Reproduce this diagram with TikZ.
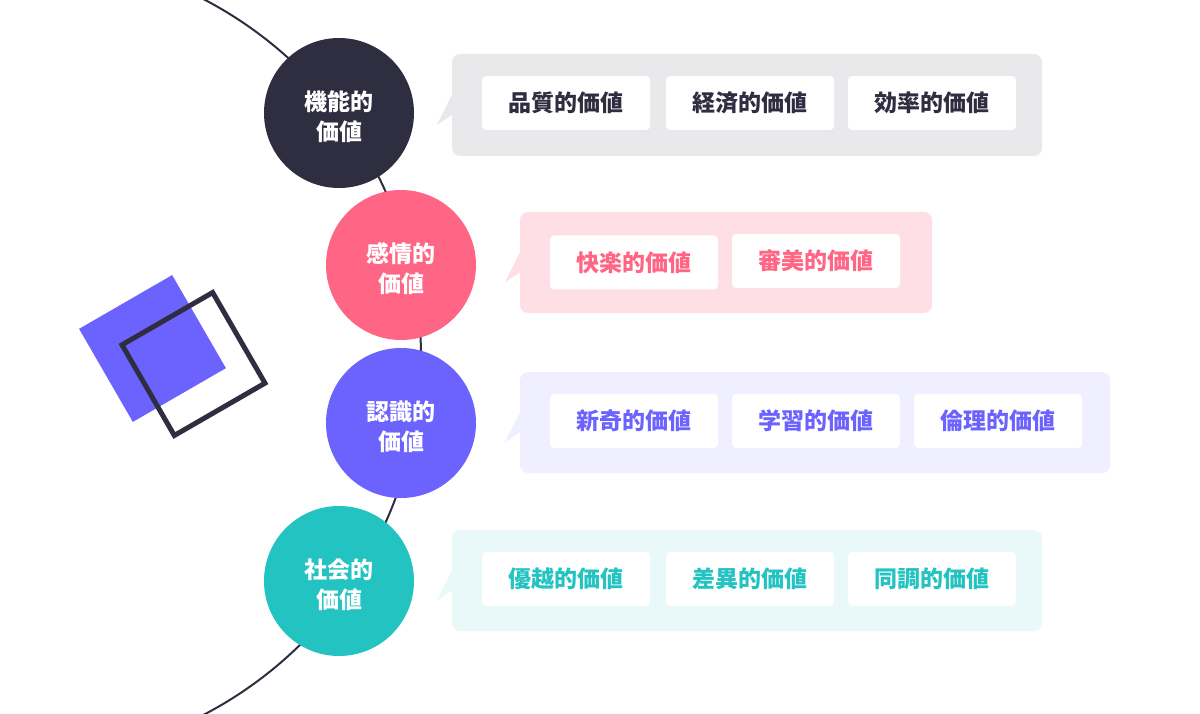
\documentclass[tikz,border=0pt]{standalone}
\usepackage{fontspec}
\newfontfamily\jp{Noto Sans CJK JP}
\definecolor{ink}{HTML}{2F2E41}
\definecolor{rose}{HTML}{FF6584}
\definecolor{violet}{HTML}{6C63FF}
\definecolor{teal}{HTML}{22C3C1}
\definecolor{greypanel}{HTML}{E9E9EC}
\definecolor{rosepanel}{HTML}{FFDFE6}
\definecolor{violetpanel}{HTML}{F0EFFF}
\definecolor{tealpanel}{HTML}{E9F9F9}
\tikzset{
  value/.style={circle, minimum size=150pt, inner sep=0pt, text=white, align=center,
    font=\jp\bfseries\fontsize{23}{30}\selectfont},
  label text/.style={yshift=-4pt, text=white, align=center,
    font=\jp\bfseries\fontsize{23}{30}\selectfont},
  panel/.style={rounded corners=8pt, minimum height=102pt, inner sep=0pt},
  chip/.style={fill=white, rounded corners=4pt, minimum width=168pt, minimum height=54pt,
    inner sep=0pt, font=\jp\bfseries\fontsize{23}{26}\selectfont},
}
\begin{document}
\begin{tikzpicture}[x=1pt,y=-1pt]
      \useasboundingbox (0,0) rectangle (1200,714);
      \begin{scope}
        \clip (0,0) rectangle (1200,714);
        \draw[ink, line width=2pt] (18,357) circle[radius=403];
      \end{scope}
      \fill[violet] (152.5,348.5) +(-75:76) -- +(-165:76) -- +(105:76) -- +(15:76) -- cycle;
      \draw[ink, line width=5pt] (193.5,364) +(-75:74) -- +(-165:74) -- +(105:74) -- +(15:74) -- cycle;
      \draw
        (339,113) node[value, fill=ink] (func){}
        (401,265) node[value, fill=rose] (emo){}
        (401,423) node[value, fill=violet] (cog){}
        (339,581) node[value, fill=teal] (soc){};
      \node[label text] at (func) {機能的\\価値};
      \node[label text] at (emo) {感情的\\価値};
      \node[label text] at (cog) {認識的\\価値};
      \node[label text] at (soc) {社会的\\価値};
      \draw
        (747,105) node[panel, fill=greypanel, minimum width=590pt] (funcbox){}
        (726,262.5) node[panel, fill=rosepanel, minimum width=412pt, minimum height=101pt] (emobox){}
        (815,422.5) node[panel, fill=violetpanel, minimum width=590pt, minimum height=101pt] (cogbox){}
        (747,580.5) node[panel, fill=tealpanel, minimum width=590pt, minimum height=101pt] (socbox){};
      \fill[greypanel] ([yshift=-10pt]funcbox.west) -- ++(-15,10) -- ([yshift=10pt]funcbox.west) -- cycle;
      \fill[rosepanel] ([yshift=-10pt]emobox.west) -- ++(-15,10) -- ([yshift=10pt]emobox.west) -- cycle;
      \fill[violetpanel] ([yshift=-10pt]cogbox.west) -- ++(-15,10) -- ([yshift=10pt]cogbox.west) -- cycle;
      \fill[tealpanel] ([yshift=-10pt]socbox.west) -- ++(-15,10) -- ([yshift=10pt]socbox.west) -- cycle;
      \begin{scope}[every node/.style={chip, text=ink}]
        \draw
          (566,103) node (quality){品質的価値}
          (750,103) node (economy){経済的価値}
          (932,103) node (efficiency){効率的価値};
      \end{scope}
      \begin{scope}[every node/.style={chip, text=rose}]
        \draw
          (634,262.5) node (pleasure){快楽的価値}
          (816,261) node (beauty){審美的価値};
      \end{scope}
      \begin{scope}[every node/.style={chip, text=violet}]
        \draw
          (634,421) node (novelty){新奇的価値}
          (816,421) node (learning){学習的価値}
          (998,421) node (ethics){倫理的価値};
      \end{scope}
      \begin{scope}[every node/.style={chip, text=teal}]
        \draw
          (566,579) node (status){優越的価値}
          (750,579) node (distinction){差異的価値}
          (932,579) node (conformity){同調的価値};
      \end{scope}
    \end{tikzpicture}
\end{document}
